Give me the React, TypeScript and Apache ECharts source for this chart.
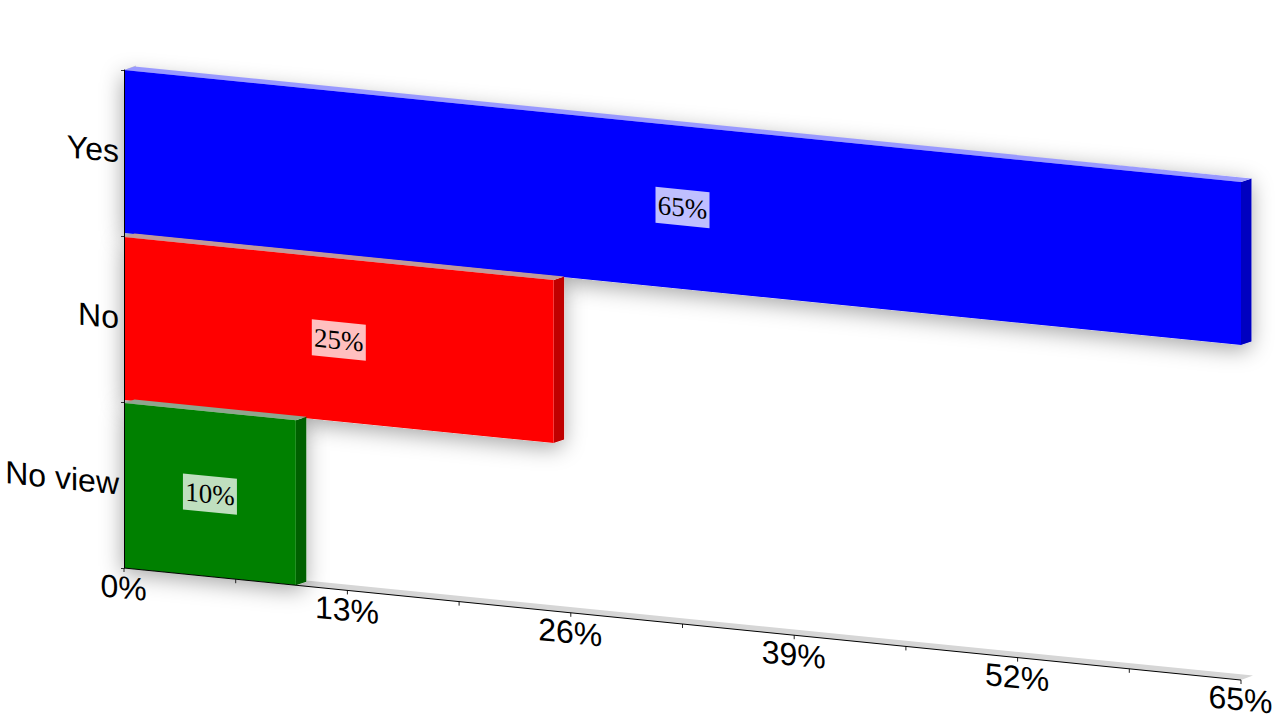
import React, { useEffect, useRef } from "react";
import * as echarts from "echarts";

const categories = ["Yes", "No", "No view"];
const values = [65, 25, 10];
const frontColors = ["#0000ff", "#ff0000", "#008000"];
const sideColors = ["#0000c0", "#c00000", "#006000"];
const topColors = ["#9999ff", "#c09a9a", "#8fa58f"];
const labels = ["65%", "25%", "10%"];
const tickLabels = ["0%", "13%", "26%", "39%", "52%", "65%"];
const labelValues = [0, 13, 26, 39, 52, 65];
const minorTicks = [0, 6.5, 13, 19.5, 26, 32.5, 39, 45.5, 52, 58.5, 65];

const SLOPE = 0.1003;
const DX = 10.5;
const DY = -3.5;
const FLOOR_DX = 12;
const FLOOR_DY = -4.5;
const LEFT = 124;
const TOP_INSET = [0, 1, 1];
const BOTTOM_INSET = [3, 2, 0];
const shear = (p: number[]) => [p[0], p[1] + (p[0] - LEFT) * SLOPE];

// Decompose the vertical shear into rotation * scale * rotation so text keeps upright strokes.
const halfK = SLOPE / 2;
const Q = Math.hypot(1, halfK);
const SX = Q + halfK;
const SY = Q - halfK;
const A2 = Math.atan2(halfK, 1);
const THETA = (A2 - Math.PI / 2) / 2;
const PHI = (A2 + Math.PI / 2) / 2;

const shearedText = (
  x: number,
  y: number,
  text: string,
  align: string,
  fontFamily: string,
  fontSize: number
) => ({
  type: "group",
  x,
  y,
  rotation: -PHI,
  scaleX: SX,
  scaleY: SY,
  children: [
    {
      type: "text",
      rotation: -THETA,
      style: {
        text,
        x: 0,
        y: 0,
        align,
        verticalAlign: "middle",
        fontFamily,
        fontSize,
        fill: "#000000",
      },
    },
  ],
});

const poly = (points: number[][], fill: string, extra: any = {}) => ({
  type: "polygon",
  shape: { points },
  style: { fill, ...extra },
});

const barCorners = (api: any) => {
  const i = api.value(1);
  const v = api.value(0);
  const band = api.size([0, 1])[1];
  const c = api.coord([0, i]);
  const e = api.coord([v, i]);
  const topY = c[1] - band / 2 + TOP_INSET[i];
  const botY = c[1] + band / 2 - BOTTOM_INSET[i];
  return {
    i,
    v,
    x0: c[0],
    x1: e[0],
    topY,
    botY,
    a: shear([c[0], topY]),
    b: shear([e[0], topY]),
    d: shear([e[0], botY]),
    f: shear([c[0], botY]),
  };
};

const off = (p: number[]) => [p[0] + DX, p[1] + DY];

const SHADOW = {
  shadowBlur: 22,
  shadowColor: "rgba(0,0,0,0.36)",
  shadowOffsetX: -1,
  shadowOffsetY: 5,
};

export default function App() {
  const ref = useRef<HTMLDivElement>(null);
  useEffect(() => {
    const chart = echarts.init(ref.current!, undefined, { renderer: "svg" });
    chart.setOption({
      animation: false,
      backgroundColor: "#ffffff",
      grid: { left: LEFT, top: 70, width: 1117, height: 498, containLabel: false },
      xAxis: { type: "value", min: 0, max: 65, show: false },
      yAxis: {
        type: "category",
        inverse: true,
        data: categories,
        z: 10,
        axisLine: { show: true, lineStyle: { color: "#000000", width: 1 } },
        axisTick: { show: true, length: 3, lineStyle: { color: "#333333" } },
        axisLabel: { show: false },
      },
      series: [
        {
          // floor and wall depth
          type: "custom",
          coordinateSystem: "cartesian2d",
          z: 1,
          silent: true,
          data: [[65, 0]],
          renderItem: (_: any, api: any) => {
            const o = shear(api.coord([0, 2]));
            const band = api.size([0, 1])[1];
            const top = [o[0], o[1] + band / 2];
            const bottom = shear(api.coord([api.value(0), 2]));
            const bl = [bottom[0], bottom[1] + band / 2];
            const t0 = [top[0], 70];
            const children: any[] = [
              poly(
                [top, [top[0] + FLOOR_DX, top[1] + FLOOR_DY], [bl[0] + FLOOR_DX, bl[1] + FLOOR_DY], bl],
                "#d6d6d6"
              ),
              poly(
                [t0, [t0[0] + FLOOR_DX, t0[1] + FLOOR_DY], [top[0] + FLOOR_DX, top[1] + FLOOR_DY], top],
                "#d6d6d6"
              ),
            ];
            return { type: "group", children };
          },
        },
        {
          // soft shadows, under every bar
          type: "custom",
          coordinateSystem: "cartesian2d",
          z: 2,
          silent: true,
          data: values.map((v, i) => [v, i]),
          renderItem: (_: any, api: any) => {
            const { a, b, d, f } = barCorners(api);
            return poly([a, off(b), off(d), d, f], "#ffffff", SHADOW);
          },
        },
        {
          type: "custom",
          coordinateSystem: "cartesian2d",
          z: 3,
          silent: true,
          data: values.map((v, i) => [v, i]),
          renderItem: (_: any, api: any) => {
            const { i, x0, x1, topY, botY, a, b, d, f } = barCorners(api);
            const midX = (x0 + x1) / 2;
            const midY = (topY + botY) / 2;
            const m = shear([midX, midY]);
            const bw = 54;
            const bh = 36;
            return {
              type: "group",
              children: [
                poly([b, off(b), off(d), d], sideColors[i]),
                poly([a, off(a), off(b), b], topColors[i]),
                poly([a, b, d, f], frontColors[i]),
                poly(
                  [
                    shear([midX - bw / 2, midY - bh / 2]),
                    shear([midX + bw / 2, midY - bh / 2]),
                    shear([midX + bw / 2, midY + bh / 2]),
                    shear([midX - bw / 2, midY + bh / 2]),
                  ],
                  "rgba(255,255,255,0.75)"
                ),
                shearedText(m[0], m[1], labels[i], "center", "Liberation Serif", 27),
              ],
            };
          },
        },
        {
          // x-axis ticks
          type: "custom",
          coordinateSystem: "cartesian2d",
          z: 4,
          silent: true,
          data: minorTicks.map((t) => [t]),
          renderItem: (_: any, api: any) => {
            const band = api.size([0, 1])[1];
            const base = api.coord([api.value(0), 2]);
            const p = shear([base[0], base[1] + band / 2]);
            return {
              type: "line",
              shape: { x1: p[0], y1: p[1], x2: p[0], y2: p[1] + 4 },
              style: { stroke: "#222222", lineWidth: 1 },
            };
          },
        },
        {
          // x-axis line
          type: "custom",
          coordinateSystem: "cartesian2d",
          z: 4,
          silent: true,
          data: [[65]],
          renderItem: (_: any, api: any) => {
            const band = api.size([0, 1])[1];
            const a0 = api.coord([0, 2]);
            const a1 = api.coord([api.value(0), 2]);
            const p0 = shear([a0[0], a0[1] + band / 2]);
            const p1 = shear([a1[0], a1[1] + band / 2]);
            return {
              type: "line",
              shape: { x1: p0[0], y1: p0[1], x2: p1[0], y2: p1[1] },
              style: { stroke: "#000000", lineWidth: 1 },
            };
          },
        },
        {
          // x-axis labels
          type: "custom",
          coordinateSystem: "cartesian2d",
          z: 5,
          silent: true,
          data: labelValues.map((t, i) => [t, i]),
          renderItem: (_: any, api: any) => {
            const band = api.size([0, 1])[1];
            const base = api.coord([api.value(0), 2]);
            const p = shear([base[0], base[1] + band / 2]);
            return shearedText(
              p[0] - 0.5,
              p[1] + 19.5,
              tickLabels[api.value(1)],
              "center",
              "Liberation Sans",
              32
            );
          },
        },
        {
          // y-axis labels
          type: "custom",
          coordinateSystem: "cartesian2d",
          z: 5,
          silent: true,
          data: categories.map((_, i) => [0, i]),
          renderItem: (_: any, api: any) => {
            const c = api.coord([0, api.value(1)]);
            return shearedText(
              c[0] - 5,
              c[1] - 1.5,
              categories[api.value(1)],
              "right",
              "Liberation Sans",
              32
            );
          },
        },
      ],
    });
    return () => chart.dispose();
  }, []);
  return (
    <div
      ref={ref}
      style={{ position: "fixed", left: 0, top: 0, width: 1280, height: 720 }}
    />
  );
}
